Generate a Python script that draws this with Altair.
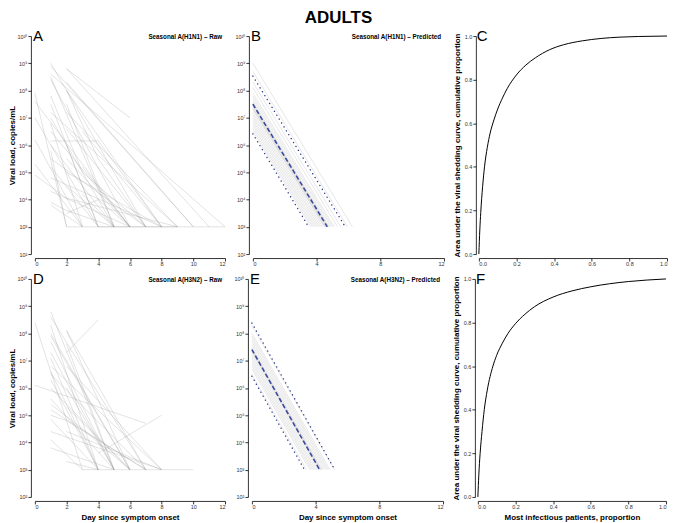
import altair as alt
import pandas as pd

FONT = "Liberation Sans"

# ---------------- data ----------------
# Panel A: seasonal A(H1N1) raw trajectories (day, log10 copies/mL)
A_days = [
    [1, 7], [1, 10], [1, 5], [1, 6], [2, 6], [2, 11], [2, 8], [2, 4, 7],
    [0, 2], [0, 6], [0, 4], [0, 2, 9], [1, 4, 8], [1, 4], [1, 9], [1, 3],
    [1, 6], [1, 5], [1, 7], [1, 4], [1, 8], [1, 6], [1, 3], [1, 2],
    [2, 5], [2, 9], [2, 7], [2, 4], [2, 6], [2, 8], [2, 5], [3, 8],
    [3, 6], [1, 3, 7], [2, 10], [1, 12], [3, 5], [2, 4, 6], [0, 3], [1, 2, 5],
    [4, 12], [2, 9], [0, 3], [1, 5],
]
A_logs = [
    [9.0, 3], [8.9, 3], [8.5, 3], [8.4, 3], [8.8, 7.0], [8.8, 3], [8.0, 3], [8.0, 5.5, 3],
    [7.9, 3], [7.6, 3], [7.0, 3], [4.9, 4.05, 3], [6.15, 6.15, 3], [7.5, 3], [7.2, 3], [6.8, 3],
    [6.5, 3], [6.0, 3], [5.5, 3], [5.2, 3], [4.8, 3], [4.3, 3], [3.8, 3], [5.8, 3],
    [7.5, 3], [7.2, 3], [6.6, 3], [6.0, 3], [5.5, 3], [5.0, 3], [4.5, 3], [6.5, 3],
    [5.2, 3], [7.8, 5.0, 3], [8.3, 3], [8.6, 3], [4.2, 3], [3.5, 4.0, 3], [5.3, 3], [3.9, 3.6, 3],
    [3, 3], [3, 3], [6.2, 3], [7.0, 3],
]

# Panel D: seasonal A(H3N2) raw trajectories
D_days = [
    [0, 3], [1, 5], [1, 7], [1, 4], [1, 6], [2, 6], [2, 7], [2, 4],
    [0, 7], [1, 5], [1, 4], [1, 8], [1, 4], [1, 6], [1, 5], [1, 7],
    [1, 4], [1, 8], [1, 3], [1, 5], [2, 4], [4, 8], [1, 3, 6], [2, 8],
    [2, 5], [1, 2, 5], [1, 7], [3, 10], [1, 2, 7], [2, 6], [1, 4], [2, 8],
    [2, 5], [1, 6],
]
D_logs = [
    [8.4, 3], [8.8, 3], [8.6, 3], [8.3, 3], [8.0, 3], [8.1, 3], [8.1, 3], [7.3, 8.5],
    [6.1, 4.7], [7.3, 3], [7.1, 3], [6.8, 3], [6.3, 3], [6.0, 3], [5.6, 3], [5.2, 3],
    [4.85, 3], [4.4, 3], [4.1, 3], [3.8, 3], [3.3, 3], [3.6, 5.0], [5.4, 4.5, 3], [6.8, 3],
    [6.0, 3], [7.7, 6.5, 3], [6.5, 3], [3, 3], [5.0, 4.8, 3], [5.3, 3], [6.6, 3], [4.4, 3],
    [7.6, 3], [7.9, 3],
]

# Panel B: predicted individual lines (log10 at day 0, day reaching 10^3)
B_start = [9.0, 8.7, 8.3, 8.1, 7.9, 7.8, 7.7, 7.6, 7.55, 7.5, 7.45, 7.4, 7.35,
           7.3, 7.2, 7.1, 7.0, 6.9, 6.8, 6.7, 6.6, 6.5]
B_end = [6.25, 5.94, 5.52, 5.31, 5.10, 5.0, 4.9, 4.79, 4.74, 4.69, 4.64, 4.58, 4.53,
         4.48, 4.38, 4.27, 4.17, 4.06, 3.96, 3.85, 3.75, 3.65]
B_mean = [7.5, 4.67]
B_upper = [8.53, 5.8]
B_lower = [6.41, 3.5]

# Panel E: predicted individual lines
E_start = [8.3, 8.0, 7.9, 7.8, 7.7, 7.6, 7.5, 7.45, 7.4, 7.35, 7.3, 7.2, 7.1,
           7.0, 6.9, 6.8, 6.7, 6.5]
E_end = [5.2, 4.9, 4.8, 4.71, 4.61, 4.51, 4.41, 4.36, 4.31, 4.26, 4.22, 4.12, 4.02,
         3.92, 3.82, 3.73, 3.63, 3.43]
E_mean = [7.41, 4.25]
E_upper = [8.38, 5.2]
E_lower = [6.43, 3.3]

# Panels C and F: cumulative curves
C_x = [0, 0.005, 0.01, 0.02, 0.03, 0.045, 0.06, 0.08, 0.1, 0.125, 0.15, 0.2, 0.25,
       0.3, 0.375, 0.45, 0.55, 0.65, 0.75, 0.85, 1.0]
C_y = [0, 0.11, 0.19, 0.31, 0.40, 0.49, 0.555, 0.615, 0.665, 0.715, 0.758, 0.822, 0.867,
       0.9, 0.937, 0.96, 0.978, 0.989, 0.995, 0.998, 1.0]
F_x = [0, 0.005, 0.012, 0.022, 0.034, 0.05, 0.08, 0.1, 0.13, 0.16, 0.2, 0.25, 0.3,
       0.4, 0.5, 0.6, 0.7, 0.8, 0.9, 1.0]
F_y = [0, 0.1, 0.2, 0.3, 0.4, 0.49, 0.6, 0.65, 0.705, 0.75, 0.795, 0.838, 0.872,
       0.917, 0.945, 0.964, 0.978, 0.988, 0.995, 1.0]

DAY_TICKS = [0, 2, 4, 6, 8, 10, 12]
LOG_TICKS = [2, 3, 4, 5, 6, 7, 8, 9, 10]
PROP_TICKS = [0, 0.2, 0.4, 0.6, 0.8, 1.0]

# ---------------- layout ----------------
W1, W2, W3 = 191, 192, 189
H = 219
SUPS = "⁰¹²³⁴⁵⁶⁷⁸⁹"


def sup(k):
    return "".join(SUPS[int(c)] for c in str(k))


LABEL_EXPR = "'10' + (" + " : ".join(
    f"round(log(datum.value)/LN10) == {k} ? '{sup(k)}'" for k in LOG_TICKS) + " : '')"


def traj_df(days_list, logs_list):
    rows = []
    for i, (ds, ls) in enumerate(zip(days_list, logs_list)):
        for d, l in zip(ds, ls):
            rows.append({"id": i, "day": d, "v": 10 ** l})
    return pd.DataFrame(rows)


def seg_df(starts, ends):
    rows = []
    for i, (s, e) in enumerate(zip(starts, ends)):
        rows.append({"id": i, "day": 0, "v": 10 ** s})
        rows.append({"id": i, "day": e, "v": 10 ** 3})
    return pd.DataFrame(rows)


def xday(title):
    return alt.X("day:Q", scale=alt.Scale(domain=[0, 12], nice=False, zero=False),
                 axis=alt.Axis(values=DAY_TICKS, title=title, offset=4, titlePadding=3))


def ylog(title):
    kw = dict(values=[10 ** k for k in LOG_TICKS], labelExpr=LABEL_EXPR, offset=4)
    if title:
        kw.update(title=title, titlePadding=1)
    else:
        kw.update(title=None)
    return alt.Y("v:Q", scale=alt.Scale(type="log", domain=[1e2, 1e10], nice=False),
                 axis=alt.Axis(**kw))


def labels(letter, header, w):
    one = pd.DataFrame({"a": [letter], "b": [header]})
    let = alt.Chart(one).mark_text(align="left", baseline="alphabetic", fontSize=15,
                                   font=FONT, color="black").encode(
        x=alt.value(-2), y=alt.value(5), text="a:N")
    hd = alt.Chart(one).mark_text(align="right", baseline="alphabetic", fontSize=6.3,
                                  font=FONT, fontWeight="bold", color="black").encode(
        x=alt.value(w - 3), y=alt.value(3), text="b:N")
    return [let, hd]


def raw_panel(days, logs, letter, header, w, xtitle):
    lines = alt.Chart(traj_df(days, logs)).mark_line(
        color="#888", strokeWidth=0.6, opacity=0.4).encode(
        x=xday(xtitle), y=ylog("Viral load, copies/mL"), detail="id:N")
    return alt.layer(lines, *labels(letter, header, w)).properties(width=w, height=H)


def pred_panel(starts, ends, mean, upper, lower, letter, header, w, xtitle):
    lines = alt.Chart(seg_df(starts, ends)).mark_line(
        color="#999", strokeWidth=0.7, opacity=0.35).encode(
        x=xday(xtitle), y=ylog(None), detail="id:N")
    bnd = seg_df([upper[0], lower[0]], [upper[1], lower[1]])
    dots = alt.Chart(bnd).mark_line(color="#2e3b8f", strokeWidth=1.4,
                                    strokeDash=[0.1, 4.5], strokeCap="round").encode(
        x="day:Q", y="v:Q", detail="id:N")
    mn = alt.Chart(seg_df([mean[0]], [mean[1]])).mark_line(
        color="#3a4a9c", strokeWidth=1.6, strokeDash=[4.5, 2.5]).encode(
        x="day:Q", y="v:Q")
    return alt.layer(lines, dots, mn, *labels(letter, header, w)).properties(width=w, height=H)


def curve_panel(xs, ys, letter, w, xtitle):
    df = pd.DataFrame({"x": xs, "y": ys})
    ln = alt.Chart(df).mark_line(color="black", strokeWidth=1, interpolate="monotone").encode(
        x=alt.X("x:Q", scale=alt.Scale(domain=[0, 1], nice=False),
                axis=alt.Axis(values=PROP_TICKS, format=".1f", title=xtitle, offset=4,
                              titlePadding=3)),
        y=alt.Y("y:Q", scale=alt.Scale(domain=[0, 1], nice=False),
                axis=alt.Axis(values=PROP_TICKS, format=".1f", offset=3, titlePadding=3,
                              title="Area under the viral shedding curve, cumulative proportion")))
    return alt.layer(ln, *labels(letter, "", w)).properties(width=w, height=H)


A = raw_panel(A_days, A_logs, "A", "Seasonal A(H1N1) – Raw", W1, None)
B = pred_panel(B_start, B_end, B_mean, B_upper, B_lower, "B",
               "Seasonal A(H1N1) – Predicted", W2, None)
C = curve_panel(C_x, C_y, "C", W3, None)
D = raw_panel(D_days, D_logs, "D", "Seasonal A(H3N2) – Raw", W1, "Day since symptom onset")
E = pred_panel(E_start, E_end, E_mean, E_upper, E_lower, "E",
               "Seasonal A(H3N2) – Predicted", W2, "Day since symptom onset")
F = curve_panel(F_x, F_y, "F", W3, "Most infectious patients, proportion")

row1 = alt.hconcat(A, B, C, spacing=8)
row2 = alt.hconcat(D, E, F, spacing=8)

chart = alt.vconcat(row1, row2, spacing=4).properties(
    padding=0,
    title=alt.TitleParams("ADULTS", fontSize=17, fontWeight="bold", font=FONT,
                          anchor="middle", offset=2, color="black"),
).configure_view(stroke=None).configure_axis(
    grid=False, labelFont=FONT, labelFontSize=5.5, labelColor="#333",
    tickSize=3, tickColor="black", tickWidth=0.8, domainColor="black", domainWidth=0.8,
    labelPadding=1, titleFont=FONT, titleFontSize=8, titleFontWeight="bold",
    titleColor="black",
)

chart.save("out.html", embed_options={"renderer": "svg", "actions": False})
